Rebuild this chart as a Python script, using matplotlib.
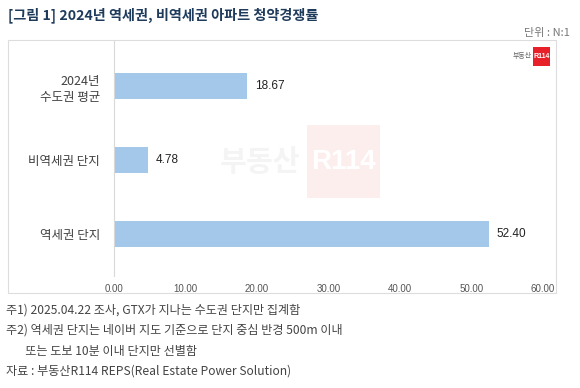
import matplotlib
matplotlib.use("Agg")
import matplotlib.pyplot as plt
from matplotlib.patches import Rectangle
from matplotlib.lines import Line2D

plt.rcParams['font.family'] = ['Noto Sans CJK KR', 'DejaVu Sans']

categories = ["2024년\n수도권 평균", "비역세권 단지", "역세권 단지"]
values = [18.67, 4.78, 52.40]
xticks = [0, 10, 20, 30, 40, 50, 60]

W, H = 580, 388
fig = plt.figure(figsize=(W/100, H/100), dpi=100)

def fx(px): return px / W
def fy(py): return 1 - py / H

# chart frame
fig.patches.append(Rectangle((fx(8), fy(293)), fx(556) - fx(8), fy(40) - fy(293),
                             transform=fig.transFigure, fill=False, edgecolor='#dddddd', lw=0.8))
fig.lines.append(Line2D([fx(114), fx(114)], [fy(41), fy(276)], transform=fig.transFigure,
                        color='#d9d9d9', lw=0.8))

# watermark
fig.text(fx(300), fy(162), "부동산", fontsize=21, fontweight='bold', color='#f4f4f4',
         ha='right', va='center')
fig.patches.append(Rectangle((fx(307), fy(198)), fx(73), fy(125) - fy(198),
                             transform=fig.transFigure, color='#fdeeee', lw=0))
fig.text(fx(343), fy(162), "R114", fontsize=20, fontweight='bold', color='#ffffff',
         ha='center', va='center', family=['Liberation Sans', 'DejaVu Sans'])

ax = fig.add_axes([fx(114), fy(271), fx(543) - fx(114), fy(49) - fy(271)])
ax.patch.set_alpha(0)
ypos = list(range(len(categories)))
ax.barh(ypos, values, height=0.35, color='#a3c8ea')
ax.set_xlim(0, 60)
ax.set_ylim(2.5, -0.5)
ax.set_yticks(ypos)
ax.set_yticklabels(categories, fontsize=9, color='#404040', linespacing=1.3)
ax.set_xticks(xticks)
ax.set_xticklabels([f"{t:.2f}" for t in xticks], fontsize=7, color='#555555',
                   family=['Liberation Sans', 'DejaVu Sans'])
ax.tick_params(axis='y', length=0, pad=10)
ax.tick_params(axis='x', length=0, pad=9)
for s in ax.spines.values():
    s.set_visible(False)
for y, v in zip(ypos, values):
    ax.text(v + 1.1, y, f"{v:.2f}", va='center', ha='left', fontsize=8.5, color='#222222',
            family=['Liberation Sans', 'DejaVu Sans'])

# logo
fig.text(fx(532), fy(56), "부동산", fontsize=5, color='#666666', ha='right', va='center')
fig.patches.append(Rectangle((fx(533), fy(66)), fx(17), fy(47) - fy(66),
                             transform=fig.transFigure, color='#e8202a', lw=0))
fig.text(fx(541.5), fy(56.5), "R114", fontsize=5, color='white', fontweight='bold',
         ha='center', va='center', family=['Liberation Sans', 'DejaVu Sans'])

# title
fig.text(fx(8), fy(15), "[그림 1] 2024년 역세권, 비역세권 아파트 청약경쟁률", fontsize=10.2,
         fontweight='bold', color='#1f3b5c', ha='left', va='center')
fig.text(fx(570), fy(33), "단위 : N:1", fontsize=8, color='#777777', ha='right', va='center')

notes = ["주1) 2025.04.22 조사, GTX가 지나는 수도권 단지만 집계함",
         "주2) 역세권 단지는 네이버 지도 기준으로 단지 중심 반경 500m 이내",
         "       또는 도보 10분 이내 단지만 선별함",
         "자료 : 부동산R114 REPS(Real Estate Power Solution)"]
for i, n in enumerate(notes):
    fig.text(fx(6), fy(310 + 20.5 * i), n, fontsize=8.7, color='#444444', ha='left', va='center')

fig.savefig("out.png", dpi=100)
